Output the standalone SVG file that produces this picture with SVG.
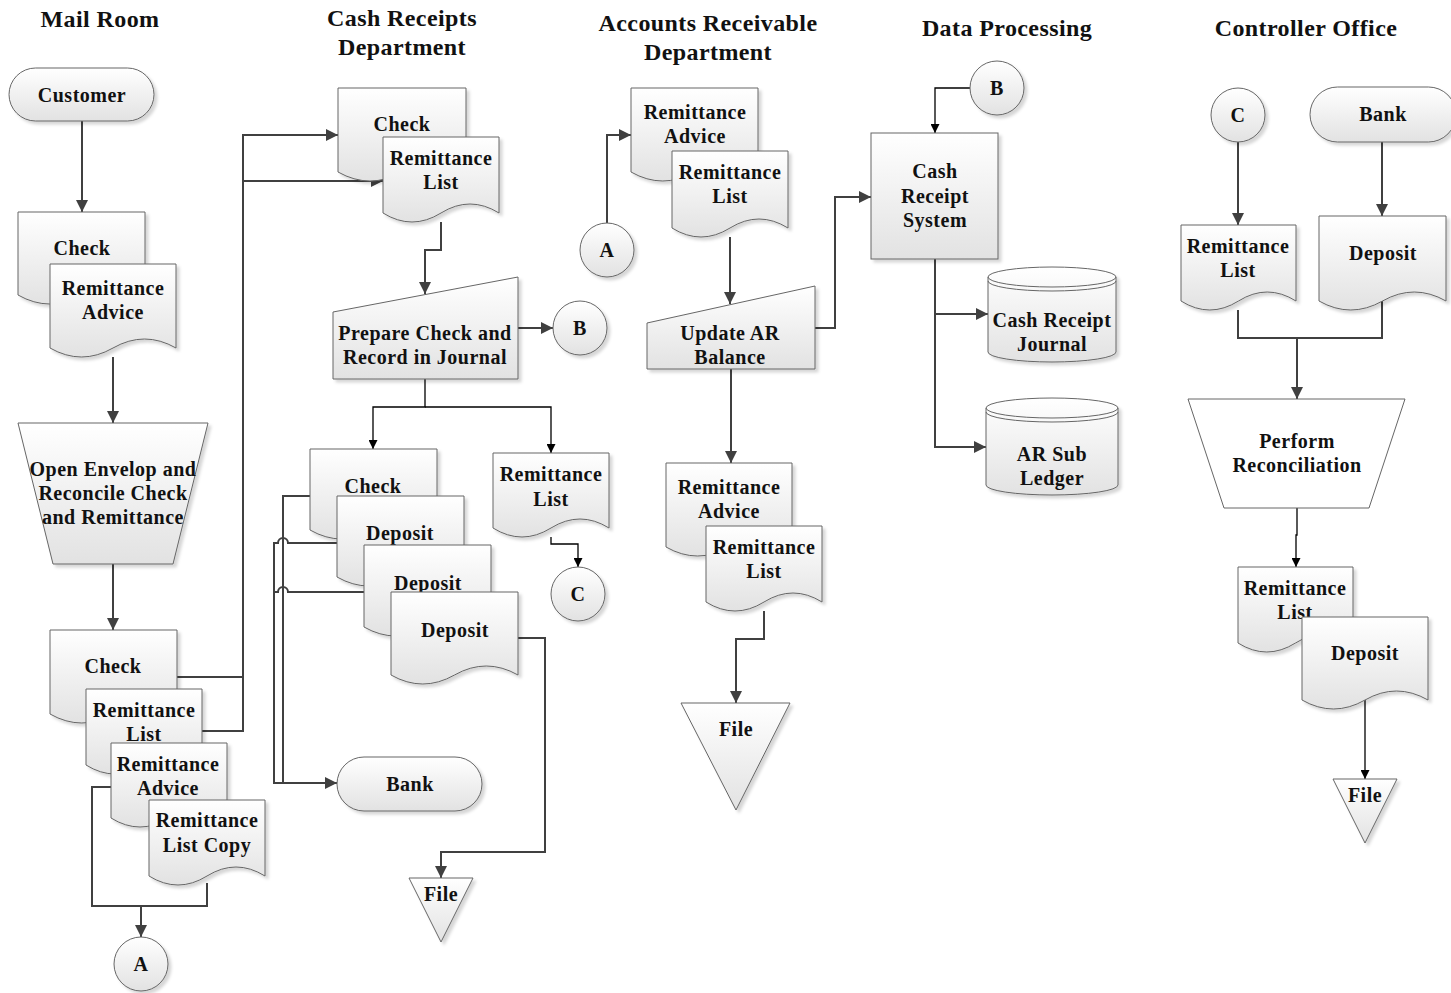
<svg xmlns="http://www.w3.org/2000/svg" width="1451" height="993" viewBox="0 0 1451 993">
  <defs>
    <linearGradient id="fillGrad" x1="0" y1="0" x2="0" y2="1">
      <stop offset="0" stop-color="#ffffff"/>
      <stop offset="1" stop-color="#e2e2e2"/>
    </linearGradient>
    <filter id="shadow" x="-10%" y="-10%" width="130%" height="130%">
      <feDropShadow dx="3" dy="3" stdDeviation="1.5" flood-color="#000" flood-opacity="0.16"/>
    </filter>
    <marker id="arrow" viewBox="0 0 10 10" refX="10" refY="5" markerUnits="userSpaceOnUse" markerWidth="13" markerHeight="12" orient="auto">
      <path d="M0,0 L10,5 L0,10 Z" fill="#404040"/>
    </marker>
    <marker id="arrowThin" viewBox="0 0 10 10" refX="10" refY="5" markerUnits="userSpaceOnUse" markerWidth="10" markerHeight="9" orient="auto">
      <path d="M0,0 L10,5 L0,10 Z" fill="#000"/>
    </marker>
  </defs>
  <style>
    .shape { fill: url(#fillGrad); stroke: #666; stroke-width: 1; filter: url(#shadow); }
    .plain { fill: #fff; stroke: #666; stroke-width: 1; }
    .line { fill: none; stroke: #666; stroke-width: 1; }
    .lbl { font-family: "Liberation Serif", "DejaVu Serif", serif; font-weight: bold; font-size: 20px; letter-spacing: 0.5px; fill: #111; text-anchor: middle; }
    .ttl { font-family: "Liberation Serif", "DejaVu Serif", serif; font-weight: bold; font-size: 24px; letter-spacing: 0.4px; fill: #111; text-anchor: middle; }
    .conn { fill: none; stroke: #404040; stroke-width: 2; }
    .thin { fill: none; stroke: #000; stroke-width: 1.3; }
  </style>

  <!-- Lane titles -->
  <g id="titles">
    <text class="ttl" x="100" y="27">Mail Room</text>
    <text class="ttl" x="402" y="26">Cash Receipts</text>
    <text class="ttl" x="402" y="55">Department</text>
    <text class="ttl" x="708" y="31">Accounts Receivable</text>
    <text class="ttl" x="708" y="60">Department</text>
    <text class="ttl" x="1007" y="36">Data Processing</text>
    <text class="ttl" x="1306" y="36">Controller Office</text>
  </g>

  <!-- Connectors -->
  <g id="connectors">
    <!-- Mail room -->
    <path class="conn" d="M82,121 V212" marker-end="url(#arrow)"/>
    <path class="conn" d="M113,357 V423" marker-end="url(#arrow)"/>
    <path class="conn" d="M113,564 V630" marker-end="url(#arrow)"/>
    <path class="conn" d="M177,677 H243 V135 H338" marker-end="url(#arrow)"/>
    <path class="conn" d="M202,731 H243 V181 H383" marker-end="url(#arrow)"/>
    <path class="conn" d="M111,787 H92 V906 H207 V883"/>
    <path class="conn" d="M141,906 V937" marker-end="url(#arrow)"/>
    <!-- Cash receipts -->
    <path class="conn" d="M441,222 V250 H425 V294" marker-end="url(#arrow)"/>
    <path class="conn" d="M518,328 H553" marker-end="url(#arrow)"/>
    <path class="thin" d="M425,379 V407 H373 V449" marker-end="url(#arrowThin)"/>
    <path class="thin" d="M425,407 H551 V453" marker-end="url(#arrowThin)"/>
    <path class="thin" d="M551,537 V544 H578 V567" marker-end="url(#arrowThin)"/>
    <path class="conn" d="M310,496 H283 V783 H337" marker-end="url(#arrow)"/>
    <path class="conn" d="M337,543 H288 A5,5 0 0 0 278,543 H274 V783 H283"/>
    <path class="conn" d="M364,592 H288 A5,5 0 0 0 278,592 H274"/>
    <path class="conn" d="M518,638 H545 V852 H441 V878" marker-end="url(#arrow)"/>
    <!-- Accounts receivable -->
    <path class="conn" d="M607,223 V135 H631" marker-end="url(#arrow)"/>
    <path class="conn" d="M730,237 V304" marker-end="url(#arrow)"/>
    <path class="conn" d="M815,328 H835 V197 H871" marker-end="url(#arrow)"/>
    <path class="conn" d="M731,369 V463" marker-end="url(#arrow)"/>
    <path class="conn" d="M764,611 V639 H736 V703" marker-end="url(#arrow)"/>
    <!-- Data processing -->
    <path class="thin" d="M970,88 H935 V133" marker-end="url(#arrowThin)"/>
    <path class="conn" d="M935,259 V447 H986" marker-end="url(#arrow)"/>
    <path class="conn" d="M935,314 H988" marker-end="url(#arrow)"/>
    <!-- Controller office -->
    <path class="conn" d="M1238,142 V225" marker-end="url(#arrow)"/>
    <path class="conn" d="M1382,142 V216" marker-end="url(#arrow)"/>
    <path class="conn" d="M1238,310 V338 H1382 V301"/>
    <path class="conn" d="M1297,338 V399" marker-end="url(#arrow)"/>
    <path class="thin" d="M1297,508 V535 H1296 V567" marker-end="url(#arrowThin)"/>
    <path class="thin" d="M1365,700 V779" marker-end="url(#arrowThin)"/>
  </g>

  <!-- Mail Room -->
  <g id="mr-customer">
    <rect class="shape" x="9" y="68" width="145" height="53" rx="26.5"/>
    <text class="lbl" x="82" y="102">Customer</text>
  </g>
  <g id="mr-check-1">
    <path class="shape" d="M18,212 H145 V295 Q113.25,277 81.5,295 Q49.75,313 18,295 Z"/>
    <text class="lbl" x="82" y="255">Check</text>
  </g>
  <g id="mr-advice-1">
    <path class="shape" d="M50,264 H176 V348 Q144.5,330 113,348 Q81.5,366 50,348 Z"/>
    <text class="lbl" x="113" y="295">Remittance</text>
    <text class="lbl" x="113" y="319">Advice</text>
  </g>
  <g id="mr-open">
    <path class="shape" d="M18,423 H208 L173,564 H53 Z"/>
    <text class="lbl" x="113" y="476">Open Envelop and</text>
    <text class="lbl" x="113" y="500">Reconcile Check</text>
    <text class="lbl" x="113" y="524">and Remittance</text>
  </g>
  <g id="mr-check-2">
    <path class="shape" d="M50,630 H177 V714 Q145.25,696 113.5,714 Q81.75,732 50,714 Z"/>
    <text class="lbl" x="113" y="673">Check</text>
  </g>
  <g id="mr-list">
    <path class="shape" d="M86,689 H202 V765 Q173,747 144,765 Q115,783 86,765 Z"/>
    <text class="lbl" x="144" y="717">Remittance</text>
    <text class="lbl" x="144" y="741">List</text>
  </g>
  <g id="mr-advice-2">
    <path class="shape" d="M111,743 H227 V818 Q198,800 169,818 Q140,836 111,818 Z"/>
    <text class="lbl" x="168" y="771">Remittance</text>
    <text class="lbl" x="168" y="795">Advice</text>
  </g>
  <g id="mr-list-copy">
    <path class="shape" d="M149,800 H265 V876 Q236,858 207,876 Q178,894 149,876 Z"/>
    <text class="lbl" x="207" y="827">Remittance</text>
    <text class="lbl" x="207" y="852">List Copy</text>
  </g>
  <g id="mr-conn-a">
    <circle class="shape" cx="141" cy="964" r="27"/>
    <text class="lbl" x="141" y="971">A</text>
  </g>

  <!-- Cash Receipts Department -->
  <g id="cr-check">
    <path class="shape" d="M338,88 H466 V172 Q434,154 402,172 Q370,190 338,172 Z"/>
    <text class="lbl" x="402" y="131">Check</text>
  </g>
  <g id="cr-list">
    <path class="shape" d="M383,137 H499 V213 Q470,195 441,213 Q412,231 383,213 Z"/>
    <text class="lbl" x="441" y="165">Remittance</text>
    <text class="lbl" x="441" y="189">List</text>
  </g>
  <g id="cr-prepare">
    <path class="shape" d="M333,312 L518,277 V379 H333 Z"/>
    <text class="lbl" x="425" y="340">Prepare Check and</text>
    <text class="lbl" x="425" y="364">Record in Journal</text>
  </g>
  <g id="cr-conn-b">
    <circle class="shape" cx="580" cy="328" r="27"/>
    <text class="lbl" x="580" y="335">B</text>
  </g>
  <g id="cr-check-2">
    <path class="shape" d="M310,449 H437 V530 Q405.25,512 373.5,530 Q341.75,548 310,530 Z"/>
    <text class="lbl" x="373" y="493">Check</text>
  </g>
  <g id="cr-deposit-1">
    <path class="shape" d="M337,496 H464 V577 Q432.25,559 400.5,577 Q368.75,595 337,577 Z"/>
    <text class="lbl" x="400" y="540">Deposit</text>
  </g>
  <g id="cr-deposit-2">
    <path class="shape" d="M364,545 H491 V627 Q459.25,609 427.5,627 Q395.75,645 364,627 Z"/>
    <text class="lbl" x="428" y="590">Deposit</text>
  </g>
  <g id="cr-deposit-3">
    <path class="shape" d="M391,592 H518 V675 Q486.25,657 454.5,675 Q422.75,693 391,675 Z"/>
    <text class="lbl" x="455" y="637">Deposit</text>
  </g>
  <g id="cr-list-2">
    <path class="shape" d="M493,453 H609 V528 Q580,510 551,528 Q522,546 493,528 Z"/>
    <text class="lbl" x="551" y="481">Remittance</text>
    <text class="lbl" x="551" y="506">List</text>
  </g>
  <g id="cr-conn-c">
    <circle class="shape" cx="578" cy="594" r="27"/>
    <text class="lbl" x="578" y="601">C</text>
  </g>
  <g id="cr-bank">
    <rect class="shape" x="337" y="757" width="145" height="54" rx="27"/>
    <text class="lbl" x="410" y="791">Bank</text>
  </g>
  <g id="cr-file">
    <path class="shape" d="M409,878 H473 L441,942 Z"/>
    <text class="lbl" x="441" y="901">File</text>
  </g>

  <!-- Accounts Receivable Department -->
  <g id="ar-conn-a">
    <circle class="shape" cx="607" cy="250" r="27"/>
    <text class="lbl" x="607" y="257">A</text>
  </g>
  <g id="ar-advice">
    <path class="shape" d="M631,88 H758 V172 Q726.25,154 694.5,172 Q662.75,190 631,172 Z"/>
    <text class="lbl" x="695" y="119">Remittance</text>
    <text class="lbl" x="695" y="143">Advice</text>
  </g>
  <g id="ar-list">
    <path class="shape" d="M672,151 H788 V228 Q759,210 730,228 Q701,246 672,228 Z"/>
    <text class="lbl" x="730" y="179">Remittance</text>
    <text class="lbl" x="730" y="203">List</text>
  </g>
  <g id="ar-update">
    <path class="shape" d="M647,323 L815,286 V369 H647 Z"/>
    <text class="lbl" x="730" y="340">Update AR</text>
    <text class="lbl" x="730" y="364">Balance</text>
  </g>
  <g id="ar-advice-2">
    <path class="shape" d="M666,463 H792 V547 Q760.5,529 729,547 Q697.5,565 666,547 Z"/>
    <text class="lbl" x="729" y="494">Remittance</text>
    <text class="lbl" x="729" y="518">Advice</text>
  </g>
  <g id="ar-list-2">
    <path class="shape" d="M706,526 H822 V602 Q793,584 764,602 Q735,620 706,602 Z"/>
    <text class="lbl" x="764" y="554">Remittance</text>
    <text class="lbl" x="764" y="578">List</text>
  </g>
  <g id="ar-file">
    <path class="shape" d="M681,703 H790 L736,810 Z"/>
    <text class="lbl" x="736" y="736">File</text>
  </g>

  <!-- Data Processing -->
  <g id="dp-conn-b">
    <circle class="shape" cx="997" cy="88" r="27"/>
    <text class="lbl" x="997" y="95">B</text>
  </g>
  <g id="dp-system">
    <rect class="shape" x="871" y="133" width="127" height="126"/>
    <text class="lbl" x="935" y="178">Cash</text>
    <text class="lbl" x="935" y="203">Receipt</text>
    <text class="lbl" x="935" y="227">System</text>
  </g>
  <g id="dp-journal">
    <path class="shape" d="M988,277 A64,10 0 0 1 1116,277 V352 A64,10 0 0 1 988,352 Z"/>
    <path class="line" d="M988,277 A64,10 0 0 0 1116,277 M988,281 A64,10 0 0 0 1116,281"/>
    <text class="lbl" x="1052" y="327">Cash Receipt</text>
    <text class="lbl" x="1052" y="351">Journal</text>
  </g>
  <g id="dp-ledger">
    <path class="shape" d="M986,408 A66,10 0 0 1 1118,408 V485 A66,10 0 0 1 986,485 Z"/>
    <path class="line" d="M986,408 A66,10 0 0 0 1118,408 M986,412 A66,10 0 0 0 1118,412"/>
    <text class="lbl" x="1052" y="461">AR Sub</text>
    <text class="lbl" x="1052" y="485">Ledger</text>
  </g>

  <!-- Controller Office -->
  <g id="co-conn-c">
    <circle class="shape" cx="1238" cy="115" r="27"/>
    <text class="lbl" x="1238" y="122">C</text>
  </g>
  <g id="co-bank">
    <rect class="shape" x="1310" y="87" width="146" height="55" rx="27.5"/>
    <text class="lbl" x="1383" y="121">Bank</text>
  </g>
  <g id="co-list">
    <path class="shape" d="M1181,225 H1296 V301 Q1267.25,283 1238.5,301 Q1209.75,319 1181,301 Z"/>
    <text class="lbl" x="1238" y="253">Remittance</text>
    <text class="lbl" x="1238" y="277">List</text>
  </g>
  <g id="co-deposit">
    <path class="shape" d="M1319,216 H1446 V301 Q1414.25,283 1382.5,301 Q1350.75,319 1319,301 Z"/>
    <text class="lbl" x="1383" y="260">Deposit</text>
  </g>
  <g id="co-reconcile">
    <path class="plain" d="M1188,399 H1405 L1369,508 H1224 Z"/>
    <text class="lbl" x="1297" y="448">Perform</text>
    <text class="lbl" x="1297" y="472">Reconciliation</text>
  </g>
  <g id="co-list-2">
    <path class="shape" d="M1238,567 H1353 V643 Q1324.25,625 1295.5,643 Q1266.75,661 1238,643 Z"/>
    <text class="lbl" x="1295" y="595">Remittance</text>
    <text class="lbl" x="1295" y="619">List</text>
  </g>
  <g id="co-deposit-2">
    <path class="shape" d="M1302,617 H1428 V700 Q1396.5,682 1365,700 Q1333.5,718 1302,700 Z"/>
    <text class="lbl" x="1365" y="660">Deposit</text>
  </g>
  <g id="co-file">
    <path class="shape" d="M1333,779 H1397 L1365,843 Z"/>
    <text class="lbl" x="1365" y="802">File</text>
  </g>
</svg>
